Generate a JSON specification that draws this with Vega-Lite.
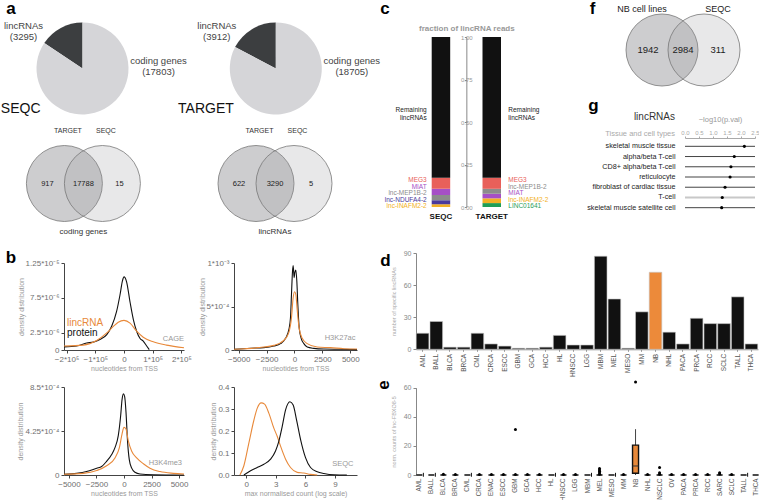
{
"$schema": "https://vega.github.io/schema/vega-lite/v6.json",
"padding": 0,
"background": "white",
"spacing": 0,
"resolve": {"scale": {"color": "independent", "fillOpacity": "independent"}, "legend": {"color": "independent"}},
"config": {
  "font": "Liberation Sans",
  "view": {"stroke": null},
  "axis": {"grid": false, "labelColor": "#6f6f6f", "labelFontSize": 8, "titleColor": "#999", "titleFontSize": 7, "titleFontWeight": "normal", "tickColor": "#444", "domainColor": "#444", "tickSize": 3, "labelPadding": 2, "titlePadding": 1, "labelFlush": false, "labelOverlap": false, "labelBound": false, "tickCount": 40},
  "text": {"font": "Liberation Sans"}
},
"datasets": {
  "pies": [
    {"dataset": "SEQC", "kind": "lincRNAs", "n": 3295},
    {"dataset": "SEQC", "kind": "coding genes", "n": 17803},
    {"dataset": "TARGET", "kind": "lincRNAs", "n": 3912},
    {"dataset": "TARGET", "kind": "coding genes", "n": 18705}
  ],
  "venn_a": [
    {"genes": "coding genes", "set": "TARGET"},
    {"genes": "lincRNAs", "set": "TARGET"},
    {"genes": "coding genes", "set": "SEQC"},
    {"genes": "lincRNAs", "set": "SEQC"}
  ],
  "venn_a_n": [
    {"genes": "coding genes", "region": "TARGET only", "n": 917},
    {"genes": "coding genes", "region": "both", "n": 17788},
    {"genes": "coding genes", "region": "SEQC only", "n": 15},
    {"genes": "lincRNAs", "region": "TARGET only", "n": 622},
    {"genes": "lincRNAs", "region": "both", "n": 3290},
    {"genes": "lincRNAs", "region": "SEQC only", "n": 5}
  ],
  "reads": [
    {"dataset": "SEQC", "name": "lnc-INAFM2-2", "frac": 0.016, "ord": 1},
    {"dataset": "SEQC", "name": "lnc-NDUFA4-2", "frac": 0.023, "ord": 2},
    {"dataset": "SEQC", "name": "lnc-MEP1B-2", "frac": 0.031, "ord": 3},
    {"dataset": "SEQC", "name": "MIAT", "frac": 0.037, "ord": 4},
    {"dataset": "SEQC", "name": "MEG3", "frac": 0.065, "ord": 5},
    {"dataset": "SEQC", "name": "Remaining lincRNAs", "frac": 0.828, "ord": 6},
    {"dataset": "TARGET", "name": "LINC01641", "frac": 0.023, "ord": 1},
    {"dataset": "TARGET", "name": "lnc-INAFM2-2", "frac": 0.028, "ord": 2},
    {"dataset": "TARGET", "name": "MIAT", "frac": 0.027, "ord": 3},
    {"dataset": "TARGET", "name": "lnc-MEP1B-2", "frac": 0.029, "ord": 4},
    {"dataset": "TARGET", "name": "MEG3", "frac": 0.065, "ord": 5},
    {"dataset": "TARGET", "name": "Remaining lincRNAs", "frac": 0.828, "ord": 6}
  ],
  "venn_f": [{"set": "NB cell lines"}, {"set": "SEQC"}],
  "venn_f_n": [
    {"region": "NB cell lines only", "n": 1942},
    {"region": "both", "n": 2984},
    {"region": "SEQC only", "n": 311}
  ],
  "tissues": [
    {"tissue": "skeletal muscle tissue", "p": 2.12},
    {"tissue": "alpha/beta T-cell", "p": 1.76},
    {"tissue": "CD8+ alpha/beta T-cell", "p": 1.64},
    {"tissue": "reticulocyte", "p": 1.61},
    {"tissue": "fibroblast of cardiac tissue", "p": 1.43},
    {"tissue": "T-cell", "p": 1.33},
    {"tissue": "skeletal muscle satellite cell", "p": 1.31}
  ],
  "cage": [
    {"type": "protein", "x": -209000, "y": 4.5e-7}, {"type": "protein", "x": -165000, "y": 5.7e-7}, {"type": "protein", "x": -130000, "y": 1.0e-6}, {"type": "protein", "x": -107000, "y": 1.13e-6}, {"type": "protein", "x": -84000, "y": 1.5e-6}, {"type": "protein", "x": -60000, "y": 2.2e-6}, {"type": "protein", "x": -43000, "y": 3.4e-6}, {"type": "protein", "x": -26000, "y": 5.5e-6}, {"type": "protein", "x": -14000, "y": 7.9e-6}, {"type": "protein", "x": -5000, "y": 1.0e-5}, {"type": "protein", "x": 0, "y": 1.05e-5}, {"type": "protein", "x": 9000, "y": 9.8e-6}, {"type": "protein", "x": 21000, "y": 6.9e-6}, {"type": "protein", "x": 33000, "y": 4.3e-6}, {"type": "protein", "x": 44000, "y": 2.7e-6}, {"type": "protein", "x": 56000, "y": 1.65e-6}, {"type": "protein", "x": 67000, "y": 1.27e-6}, {"type": "protein", "x": 79000, "y": 5.7e-7}, {"type": "protein", "x": 88000, "y": 5e-8},
    {"type": "lincRNA", "x": -209000, "y": 5.7e-7}, {"type": "lincRNA", "x": -142000, "y": 7.0e-7}, {"type": "lincRNA", "x": -95000, "y": 1.37e-6}, {"type": "lincRNA", "x": -60000, "y": 2.45e-6}, {"type": "lincRNA", "x": -37000, "y": 3.4e-6}, {"type": "lincRNA", "x": -20000, "y": 4.0e-6}, {"type": "lincRNA", "x": 0, "y": 4.25e-6}, {"type": "lincRNA", "x": 21000, "y": 3.87e-6}, {"type": "lincRNA", "x": 44000, "y": 2.7e-6}, {"type": "lincRNA", "x": 67000, "y": 1.84e-6}, {"type": "lincRNA", "x": 102000, "y": 1.18e-6}, {"type": "lincRNA", "x": 148000, "y": 7.0e-7}, {"type": "lincRNA", "x": 209000, "y": 3.3e-7}
  ],
  "h3k27ac": [
    {"type": "protein", "x": -5420, "y": 8e-6}, {"type": "protein", "x": -3950, "y": 2.0e-5}, {"type": "protein", "x": -2750, "y": 2.7e-5}, {"type": "protein", "x": -1850, "y": 4.6e-5}, {"type": "protein", "x": -1250, "y": 7.3e-5}, {"type": "protein", "x": -800, "y": 1.34e-4}, {"type": "protein", "x": -500, "y": 2.37e-4}, {"type": "protein", "x": -360, "y": 3.7e-4}, {"type": "protein", "x": -270, "y": 6.4e-4}, {"type": "protein", "x": -180, "y": 9.0e-4}, {"type": "protein", "x": -120, "y": 9.7e-4}, {"type": "protein", "x": -30, "y": 8.3e-4}, {"type": "protein", "x": 30, "y": 8.9e-4}, {"type": "protein", "x": 120, "y": 9.2e-4}, {"type": "protein", "x": 210, "y": 7.9e-4}, {"type": "protein", "x": 300, "y": 5.2e-4}, {"type": "protein", "x": 420, "y": 2.56e-4}, {"type": "protein", "x": 600, "y": 1.34e-4}, {"type": "protein", "x": 840, "y": 7.3e-5}, {"type": "protein", "x": 1140, "y": 3.4e-5}, {"type": "protein", "x": 1740, "y": 1.9e-5}, {"type": "protein", "x": 2630, "y": 1.1e-5}, {"type": "protein", "x": 4130, "y": 8e-6}, {"type": "protein", "x": 5600, "y": 4e-6},
    {"type": "lincRNA", "x": -5420, "y": 8e-6}, {"type": "lincRNA", "x": -3300, "y": 2.7e-5}, {"type": "lincRNA", "x": -1850, "y": 5.3e-5}, {"type": "lincRNA", "x": -960, "y": 1.1e-4}, {"type": "lincRNA", "x": -510, "y": 2.0e-4}, {"type": "lincRNA", "x": -270, "y": 3.7e-4}, {"type": "lincRNA", "x": -120, "y": 6.0e-4}, {"type": "lincRNA", "x": 0, "y": 6.7e-4}, {"type": "lincRNA", "x": 120, "y": 6.4e-4}, {"type": "lincRNA", "x": 240, "y": 4.66e-4}, {"type": "lincRNA", "x": 390, "y": 2.75e-4}, {"type": "lincRNA", "x": 690, "y": 1.34e-4}, {"type": "lincRNA", "x": 1140, "y": 7.3e-5}, {"type": "lincRNA", "x": 2030, "y": 3.4e-5}, {"type": "lincRNA", "x": 3230, "y": 2.7e-5}, {"type": "lincRNA", "x": 4430, "y": 1.5e-5}, {"type": "lincRNA", "x": 5600, "y": 1.1e-5}
  ],
  "h3k4me3": [
    {"type": "protein", "x": -5450, "y": 7e-6}, {"type": "protein", "x": -4300, "y": 1.6e-5}, {"type": "protein", "x": -3400, "y": 3.3e-5}, {"type": "protein", "x": -2480, "y": 6.6e-5}, {"type": "protein", "x": -2030, "y": 8.2e-5}, {"type": "protein", "x": -1580, "y": 1.32e-4}, {"type": "protein", "x": -1120, "y": 1.98e-4}, {"type": "protein", "x": -820, "y": 2.64e-4}, {"type": "protein", "x": -520, "y": 3.8e-4}, {"type": "protein", "x": -300, "y": 5.77e-4}, {"type": "protein", "x": -180, "y": 7.25e-4}, {"type": "protein", "x": -60, "y": 7.84e-4}, {"type": "protein", "x": 60, "y": 7.58e-4}, {"type": "protein", "x": 180, "y": 6.1e-4}, {"type": "protein", "x": 330, "y": 3.13e-4}, {"type": "protein", "x": 480, "y": 1.48e-4}, {"type": "protein", "x": 700, "y": 6.6e-5}, {"type": "protein", "x": 1000, "y": 2.6e-5}, {"type": "protein", "x": 1450, "y": 1.0e-5}, {"type": "protein", "x": 2670, "y": 3e-6}, {"type": "protein", "x": 5450, "y": 0},
    {"type": "lincRNA", "x": -5450, "y": 7e-6}, {"type": "lincRNA", "x": -3700, "y": 1.6e-5}, {"type": "lincRNA", "x": -2480, "y": 4.3e-5}, {"type": "lincRNA", "x": -1580, "y": 8.9e-5}, {"type": "lincRNA", "x": -820, "y": 1.65e-4}, {"type": "lincRNA", "x": -420, "y": 2.64e-4}, {"type": "lincRNA", "x": -180, "y": 3.95e-4}, {"type": "lincRNA", "x": 0, "y": 4.6e-4}, {"type": "lincRNA", "x": 180, "y": 4.45e-4}, {"type": "lincRNA", "x": 390, "y": 3.3e-4}, {"type": "lincRNA", "x": 700, "y": 2.3e-4}, {"type": "lincRNA", "x": 1150, "y": 1.65e-4}, {"type": "lincRNA", "x": 1760, "y": 1.09e-4}, {"type": "lincRNA", "x": 2360, "y": 6.6e-5}, {"type": "lincRNA", "x": 3270, "y": 3.3e-5}, {"type": "lincRNA", "x": 4480, "y": 1.6e-5}, {"type": "lincRNA", "x": 5450, "y": 1.0e-5}
  ],
  "seqc": [
    {"type": "lincRNA", "x": -0.64, "y": 0}, {"type": "lincRNA", "x": -0.24, "y": 0.042}, {"type": "lincRNA", "x": 0.27, "y": 0.146}, {"type": "lincRNA", "x": 0.78, "y": 0.25}, {"type": "lincRNA", "x": 1.11, "y": 0.303}, {"type": "lincRNA", "x": 1.52, "y": 0.328}, {"type": "lincRNA", "x": 1.86, "y": 0.322}, {"type": "lincRNA", "x": 2.3, "y": 0.28}, {"type": "lincRNA", "x": 2.8, "y": 0.213}, {"type": "lincRNA", "x": 3.14, "y": 0.176}, {"type": "lincRNA", "x": 3.48, "y": 0.131}, {"type": "lincRNA", "x": 3.99, "y": 0.072}, {"type": "lincRNA", "x": 4.49, "y": 0.034}, {"type": "lincRNA", "x": 5.17, "y": 0.012}, {"type": "lincRNA", "x": 5.84, "y": 0.009}, {"type": "lincRNA", "x": 6.5, "y": 0.003}, {"type": "lincRNA", "x": 7.2, "y": 0},
    {"type": "protein", "x": -0.24, "y": 0}, {"type": "protein", "x": 0.44, "y": 0.019}, {"type": "protein", "x": 1.11, "y": 0.034}, {"type": "protein", "x": 1.79, "y": 0.049}, {"type": "protein", "x": 2.47, "y": 0.072}, {"type": "protein", "x": 2.97, "y": 0.109}, {"type": "protein", "x": 3.31, "y": 0.154}, {"type": "protein", "x": 3.65, "y": 0.221}, {"type": "protein", "x": 3.99, "y": 0.296}, {"type": "protein", "x": 4.43, "y": 0.333}, {"type": "protein", "x": 4.76, "y": 0.318}, {"type": "protein", "x": 5.1, "y": 0.251}, {"type": "protein", "x": 5.51, "y": 0.161}, {"type": "protein", "x": 6.01, "y": 0.079}, {"type": "protein", "x": 6.52, "y": 0.034}, {"type": "protein", "x": 7.2, "y": 0.015}, {"type": "protein", "x": 7.87, "y": 0.007}, {"type": "protein", "x": 8.9, "y": 0.001}, {"type": "protein", "x": 10.2, "y": 0}
  ],
  "specific": [
    {"type": "AML", "n": 15}, {"type": "BALL", "n": 26}, {"type": "BLCA", "n": 2}, {"type": "BRCA", "n": 2}, {"type": "CML", "n": 15}, {"type": "CRCA", "n": 5}, {"type": "ESCC", "n": 3}, {"type": "GBM", "n": 1}, {"type": "GCA", "n": 1}, {"type": "HCC", "n": 2}, {"type": "HL", "n": 13}, {"type": "HNSCC", "n": 4}, {"type": "LGG", "n": 4}, {"type": "MBM", "n": 87}, {"type": "MEL", "n": 47}, {"type": "MESO", "n": 1}, {"type": "MM", "n": 35}, {"type": "NB", "n": 72}, {"type": "NHL", "n": 16}, {"type": "PACA", "n": 5}, {"type": "PRCA", "n": 29}, {"type": "RCC", "n": 24}, {"type": "SCLC", "n": 24}, {"type": "TALL", "n": 49}, {"type": "THCA", "n": 5}
  ],
  "boxes": [
    {"type": "AML", "lower": 0, "q1": 0, "median": 0, "q3": 0, "upper": 0, "all_zero": true},
    {"type": "BALL", "lower": 0, "q1": 0, "median": 0, "q3": 0, "upper": 0, "all_zero": true},
    {"type": "BLCA", "lower": 0, "q1": 0, "median": 0, "q3": 0, "upper": 0, "all_zero": false},
    {"type": "BRCA", "lower": 0, "q1": 0, "median": 0, "q3": 0, "upper": 0, "all_zero": false},
    {"type": "CML", "lower": 0, "q1": 0, "median": 0, "q3": 0, "upper": 0, "all_zero": true},
    {"type": "CRCA", "lower": 0, "q1": 0, "median": 0, "q3": 0, "upper": 0, "all_zero": false},
    {"type": "ENAC", "lower": 0, "q1": 0, "median": 0, "q3": 0, "upper": 0, "all_zero": false},
    {"type": "ESCC", "lower": 0, "q1": 0, "median": 0, "q3": 0, "upper": 0, "all_zero": false},
    {"type": "GBM", "lower": 0, "q1": 0, "median": 0, "q3": 0, "upper": 0, "all_zero": false},
    {"type": "GCA", "lower": 0, "q1": 0, "median": 0, "q3": 0, "upper": 0, "all_zero": false},
    {"type": "HCC", "lower": 0, "q1": 0, "median": 0, "q3": 0, "upper": 0, "all_zero": false},
    {"type": "HL", "lower": 0, "q1": 0, "median": 0, "q3": 0, "upper": 0, "all_zero": true},
    {"type": "HNSCC", "lower": 0, "q1": 0, "median": 0, "q3": 0, "upper": 0, "all_zero": false},
    {"type": "LGG", "lower": 0, "q1": 0, "median": 0, "q3": 0, "upper": 0, "all_zero": false},
    {"type": "MBM", "lower": 0, "q1": 0, "median": 0, "q3": 0, "upper": 0, "all_zero": true},
    {"type": "MEL", "lower": 0, "q1": 0, "median": 0, "q3": 0, "upper": 0, "all_zero": false},
    {"type": "MESO", "lower": 0, "q1": 0, "median": 0, "q3": 0, "upper": 0, "all_zero": true},
    {"type": "MM", "lower": 0, "q1": 0, "median": 0, "q3": 0, "upper": 0, "all_zero": false},
    {"type": "NB", "lower": 0, "q1": 1.2, "median": 6.2, "q3": 20.5, "upper": 31.5, "all_zero": false},
    {"type": "NHL", "lower": 0, "q1": 0, "median": 0, "q3": 0, "upper": 0, "all_zero": false},
    {"type": "NSCLC", "lower": 0, "q1": 0, "median": 0, "q3": 0, "upper": 0, "all_zero": false},
    {"type": "OV", "lower": 0, "q1": 0, "median": 0, "q3": 0, "upper": 0, "all_zero": false},
    {"type": "PACA", "lower": 0, "q1": 0, "median": 0, "q3": 0, "upper": 0, "all_zero": false},
    {"type": "PRCA", "lower": 0, "q1": 0, "median": 0, "q3": 0, "upper": 0, "all_zero": false},
    {"type": "RCC", "lower": 0, "q1": 0, "median": 0, "q3": 0, "upper": 0, "all_zero": false},
    {"type": "SARC", "lower": 0, "q1": 0, "median": 0, "q3": 0, "upper": 0, "all_zero": false},
    {"type": "SCLC", "lower": 0, "q1": 0, "median": 0, "q3": 0, "upper": 0, "all_zero": false},
    {"type": "TALL", "lower": 0, "q1": 0, "median": 0, "q3": 0, "upper": 0, "all_zero": true},
    {"type": "THCA", "lower": 0, "q1": 0, "median": 0, "q3": 0, "upper": 0, "all_zero": true}
  ],
  "outliers": [
    {"type": "BLCA", "v": 0.6}, {"type": "BRCA", "v": 0.3}, {"type": "CRCA", "v": 0.3}, {"type": "ENAC", "v": 0.3}, {"type": "ESCC", "v": 0.3}, {"type": "GBM", "v": 0.3}, {"type": "GBM", "v": 31.3}, {"type": "GCA", "v": 0.3}, {"type": "HCC", "v": 0.3}, {"type": "HNSCC", "v": 0.3}, {"type": "LGG", "v": 0.3}, {"type": "MEL", "v": 0.5}, {"type": "MEL", "v": 1.5}, {"type": "MEL", "v": 2.5}, {"type": "MEL", "v": 3.5}, {"type": "MEL", "v": 4.5}, {"type": "MM", "v": 0.3}, {"type": "NB", "v": 64}, {"type": "NHL", "v": 0.3}, {"type": "NSCLC", "v": 0.5}, {"type": "NSCLC", "v": 1.5}, {"type": "NSCLC", "v": 5.2}, {"type": "OV", "v": 0.3}, {"type": "PACA", "v": 0.3}, {"type": "PRCA", "v": 0.3}, {"type": "RCC", "v": 0.3}, {"type": "SARC", "v": 0.7}, {"type": "SARC", "v": 1.5}, {"type": "SCLC", "v": 0.3}
  ]
},
"vconcat": [
 {
  "hconcat": [
  {
    "width": 380, "height": 240,
    "resolve": {"scale": {"x": "independent", "xOffset": "independent"}},
    "layer": [
      {"data": {"name": "pies"},
       "transform": [{"stack": "n", "groupby": ["dataset"], "sort": [{"field": "kind", "order": "ascending"}], "offset": "normalize", "as": ["t0", "t1"]}],
       "mark": {"type": "arc", "outerRadius": 46},
       "encoding": {
         "x": {"field": "dataset", "type": "nominal", "scale": {"type": "point", "padding": 0, "domain": ["SEQC", "TARGET"], "range": [82.5, 275.8]}, "axis": null},
         "y": {"datum": "pie", "type": "nominal", "scale": {"type": "point", "padding": 0, "domain": ["pie", "venn"], "range": [67.5, 182.5]}, "axis": null},
         "theta": {"field": "t0", "type": "quantitative", "scale": {"domain": [0, 1], "range": [0, 6.283185]}},
         "theta2": {"field": "t1"},
         "color": {"field": "kind", "type": "nominal", "scale": {"domain": ["coding genes", "lincRNAs"], "range": ["#d5d5d8", "#3c3e40"]}, "legend": null}
       }},
      {"data": {"name": "pies"}, "transform": [{"filter": "datum.kind == 'lincRNAs'"}],
       "mark": {"type": "text", "dx": -59, "dy": -42.5, "fontSize": 9.5, "color": "#444"},
       "encoding": {
         "x": {"field": "dataset", "type": "nominal", "scale": {"type": "point", "padding": 0, "domain": ["SEQC", "TARGET"], "range": [82.5, 275.8]}, "axis": null},
         "y": {"datum": "pie", "type": "nominal", "scale": {"type": "point", "padding": 0, "domain": ["pie", "venn"], "range": [67.5, 182.5]}, "axis": null},
         "text": {"field": "kind"}}},
      {"data": {"name": "pies"}, "transform": [{"filter": "datum.kind == 'lincRNAs'"}],
       "mark": {"type": "text", "dx": -59, "dy": -32, "fontSize": 9.5, "color": "#444"},
       "encoding": {
         "x": {"field": "dataset", "type": "nominal", "scale": {"type": "point", "padding": 0, "domain": ["SEQC", "TARGET"], "range": [82.5, 275.8]}, "axis": null},
         "y": {"datum": "pie", "type": "nominal", "scale": {"type": "point", "padding": 0, "domain": ["pie", "venn"], "range": [67.5, 182.5]}, "axis": null},
         "text": {"field": "n", "type": "quantitative", "format": "(%Q)", "formatType": "time"}}},
      {"data": {"name": "pies"}, "transform": [{"filter": "datum.kind == 'coding genes'"}],
       "mark": {"type": "text", "dx": 76, "dy": -7.5, "fontSize": 9.5, "color": "#444"},
       "encoding": {
         "x": {"field": "dataset", "type": "nominal", "scale": {"type": "point", "padding": 0, "domain": ["SEQC", "TARGET"], "range": [82.5, 275.8]}, "axis": null},
         "y": {"datum": "pie", "type": "nominal", "scale": {"type": "point", "padding": 0, "domain": ["pie", "venn"], "range": [67.5, 182.5]}, "axis": null},
         "text": {"field": "kind"}}},
      {"data": {"name": "pies"}, "transform": [{"filter": "datum.kind == 'coding genes'"}],
       "mark": {"type": "text", "dx": 76, "dy": 3.5, "fontSize": 9.5, "color": "#444"},
       "encoding": {
         "x": {"field": "dataset", "type": "nominal", "scale": {"type": "point", "padding": 0, "domain": ["SEQC", "TARGET"], "range": [82.5, 275.8]}, "axis": null},
         "y": {"datum": "pie", "type": "nominal", "scale": {"type": "point", "padding": 0, "domain": ["pie", "venn"], "range": [67.5, 182.5]}, "axis": null},
         "text": {"field": "n", "type": "quantitative", "format": "(%Q)", "formatType": "time"}}},
      {"data": {"name": "pies"}, "transform": [{"filter": "datum.kind == 'lincRNAs'"}],
       "mark": {"type": "text", "align": "right", "dx": -42, "dy": 40, "fontSize": 14, "color": "#111"},
       "encoding": {
         "x": {"field": "dataset", "type": "nominal", "scale": {"type": "point", "padding": 0, "domain": ["SEQC", "TARGET"], "range": [82.5, 275.8]}, "axis": null},
         "y": {"datum": "pie", "type": "nominal", "scale": {"type": "point", "padding": 0, "domain": ["pie", "venn"], "range": [67.5, 182.5]}, "axis": null},
         "text": {"field": "dataset"}}},
      {"data": {"name": "venn_a"},
       "mark": {"type": "point", "shape": "circle", "filled": true, "opacity": 1, "size": 5776, "fill": "#9a9a9e", "stroke": "#777", "strokeWidth": 0.8, "strokeOpacity": 1},
       "encoding": {
         "x": {"field": "genes", "type": "nominal", "scale": {"type": "point", "padding": 0, "domain": ["coding genes", "lincRNAs"], "range": [83.4, 275]}, "axis": null},
         "xOffset": {"field": "set", "type": "nominal", "scale": {"type": "point", "padding": 0, "domain": ["TARGET", "SEQC"], "range": [-19, 19]}},
         "y": {"datum": "venn", "type": "nominal", "scale": {"type": "point", "padding": 0, "domain": ["pie", "venn"], "range": [67.5, 182.5]}, "axis": null},
         "fillOpacity": {"field": "set", "type": "nominal", "scale": {"domain": ["TARGET", "SEQC"], "range": [0.49, 0.225]}, "legend": null}
       }},
      {"data": {"name": "venn_a"},
       "mark": {"type": "text", "dx": 3.5, "dy": -52.5, "fontSize": 7, "color": "#333"},
       "encoding": {
         "x": {"field": "genes", "type": "nominal", "scale": {"type": "point", "padding": 0, "domain": ["coding genes", "lincRNAs"], "range": [83.4, 275]}, "axis": null},
         "xOffset": {"field": "set", "type": "nominal", "scale": {"type": "point", "padding": 0, "domain": ["TARGET", "SEQC"], "range": [-19, 19]}},
         "y": {"datum": "venn", "type": "nominal", "scale": {"type": "point", "padding": 0, "domain": ["pie", "venn"], "range": [67.5, 182.5]}, "axis": null},
         "text": {"field": "set"}}},
      {"data": {"name": "venn_a_n"},
       "mark": {"type": "text", "fontSize": 7.5, "color": "#222"},
       "encoding": {
         "x": {"field": "genes", "type": "nominal", "scale": {"type": "point", "padding": 0, "domain": ["coding genes", "lincRNAs"], "range": [83.4, 275]}, "axis": null},
         "xOffset": {"field": "region", "type": "nominal", "scale": {"type": "point", "padding": 0, "domain": ["TARGET only", "both", "SEQC only"], "range": [-36, 36]}},
         "y": {"datum": "venn", "type": "nominal", "scale": {"type": "point", "padding": 0, "domain": ["pie", "venn"], "range": [67.5, 182.5]}, "axis": null},
         "text": {"field": "n", "type": "quantitative", "format": "d"}}},
      {"data": {"name": "venn_a"}, "transform": [{"filter": "datum.set == 'SEQC'"}],
       "mark": {"type": "text", "dy": 48, "fontSize": 8, "color": "#333"},
       "encoding": {
         "x": {"field": "genes", "type": "nominal", "scale": {"type": "point", "padding": 0, "domain": ["coding genes", "lincRNAs"], "range": [83.4, 275]}, "axis": null},
         "y": {"datum": "venn", "type": "nominal", "scale": {"type": "point", "padding": 0, "domain": ["pie", "venn"], "range": [67.5, 182.5]}, "axis": null},
         "text": {"field": "genes"}}},
      {"data": {"values": [{"panel": "a"}]},
       "mark": {"type": "text", "fontSize": 17, "fontWeight": "bold", "color": "#000", "baseline": "top", "align": "center", "dx": -71.5, "dy": -67.5},
       "encoding": {
         "x": {"datum": "SEQC", "type": "nominal", "scale": {"type": "point", "padding": 0, "domain": ["SEQC", "TARGET"], "range": [82.5, 275.8]}, "axis": null},
         "y": {"datum": "pie", "type": "nominal", "scale": {"type": "point", "padding": 0, "domain": ["pie", "venn"], "range": [67.5, 182.5]}, "axis": null},
         "text": {"field": "panel"}}}
    ]
  },
  {
    "width": 208, "height": 235,
    "resolve": {"scale": {"y": "independent"}},
    "layer": [
      {"data": {"name": "reads"},
       "transform": [{"stack": "frac", "groupby": ["dataset"], "sort": [{"field": "ord", "order": "ascending"}], "as": ["y0", "y1"]}],
       "mark": {"type": "bar"},
       "encoding": {
         "x": {"field": "dataset", "type": "nominal", "scale": {"type": "band", "domain": ["SEQC", "TARGET"], "range": [51.7, 121], "paddingInner": 0.636, "paddingOuter": 0}, "axis": null},
         "y": {"field": "y0", "type": "quantitative", "scale": {"domain": [0, 1], "range": [206, 36], "nice": false, "zero": false},
               "axis": {"orient": "left", "offset": -86.35, "values": [0, 0.25, 0.5, 0.75, 1], "tickCount": 40, "format": ".2f", "labelAlign": "center", "labelBaseline": "middle", "labelPadding": -2, "tickSize": 2, "labelFontSize": 6, "labelColor": "#999", "domainColor": "#888", "tickColor": "#888", "labelOverlap": false,
                        "title": "fraction of lincRNA reads", "titleAngle": 0, "titleX": 0, "titleY": 27, "titleAlign": "center", "titleBaseline": "middle", "titleFontWeight": "bold", "titleFontSize": 8, "titleColor": "#999"}},
         "y2": {"field": "y1"},
         "color": {"field": "name", "type": "nominal", "scale": {"domain": ["MEG3", "MIAT", "lnc-MEP1B-2", "lnc-NDUFA4-2", "lnc-INAFM2-2", "LINC01641", "Remaining lincRNAs"], "range": ["#e8605a", "#a64fc6", "#8c8c8c", "#4a3a9c", "#f2b125", "#1f9e55", "#111111"]}, "legend": null}
       }},
      {"data": {"name": "reads"}, "transform": [{"filter": "datum.dataset == 'SEQC' && datum.ord <= 5"}],
       "mark": {"type": "text", "align": "right", "dx": -14.25, "fontSize": 6.5, "baseline": "middle"},
       "encoding": {
         "x": {"field": "dataset", "type": "nominal", "scale": {"type": "band", "domain": ["SEQC", "TARGET"], "range": [51.7, 121], "paddingInner": 0.636, "paddingOuter": 0}, "axis": null},
         "y": {"field": "ord", "type": "ordinal", "scale": {"type": "point", "padding": 0, "domain": [1, 2, 3, 4, 5], "range": [205.3, 179.3]}, "axis": null},
         "text": {"field": "name"},
         "color": {"field": "name", "type": "nominal", "scale": {"domain": ["MEG3", "MIAT", "lnc-MEP1B-2", "lnc-NDUFA4-2", "lnc-INAFM2-2", "LINC01641", "Remaining lincRNAs"], "range": ["#e8605a", "#a64fc6", "#8c8c8c", "#4a3a9c", "#f2b125", "#1f9e55", "#111111"]}, "legend": null}}},
      {"data": {"name": "reads"}, "transform": [{"filter": "datum.dataset == 'TARGET' && datum.ord <= 5"}],
       "mark": {"type": "text", "align": "left", "dx": 16.55, "fontSize": 6.5, "baseline": "middle"},
       "encoding": {
         "x": {"field": "dataset", "type": "nominal", "scale": {"type": "band", "domain": ["SEQC", "TARGET"], "range": [51.7, 121], "paddingInner": 0.636, "paddingOuter": 0}, "axis": null},
         "y": {"field": "ord", "type": "ordinal", "scale": {"type": "point", "padding": 0, "domain": [1, 2, 3, 4, 5], "range": [205.3, 179.3]}, "axis": null},
         "text": {"field": "name"},
         "color": {"field": "name", "type": "nominal", "scale": {"domain": ["MEG3", "MIAT", "lnc-MEP1B-2", "lnc-NDUFA4-2", "lnc-INAFM2-2", "LINC01641", "Remaining lincRNAs"], "range": ["#e8605a", "#a64fc6", "#8c8c8c", "#4a3a9c", "#f2b125", "#1f9e55", "#111111"]}, "legend": null}}},
      {"data": {"name": "reads"}, "transform": [{"filter": "datum.dataset == 'SEQC' && datum.ord == 6"}],
       "mark": {"type": "text", "align": "right", "dx": -14.25, "fontSize": 6.5, "lineBreak": " ", "lineHeight": 8, "color": "#222"},
       "encoding": {
         "x": {"field": "dataset", "type": "nominal", "scale": {"type": "band", "domain": ["SEQC", "TARGET"], "range": [51.7, 121], "paddingInner": 0.636, "paddingOuter": 0}, "axis": null},
         "y": {"datum": 0.57, "type": "quantitative", "scale": {"domain": [0, 1], "range": [206, 36], "nice": false, "zero": false}, "axis": null},
         "text": {"field": "name"}}},
      {"data": {"name": "reads"}, "transform": [{"filter": "datum.dataset == 'TARGET' && datum.ord == 6"}],
       "mark": {"type": "text", "align": "left", "dx": 16.55, "fontSize": 6.5, "lineBreak": " ", "lineHeight": 8, "color": "#222"},
       "encoding": {
         "x": {"field": "dataset", "type": "nominal", "scale": {"type": "band", "domain": ["SEQC", "TARGET"], "range": [51.7, 121], "paddingInner": 0.636, "paddingOuter": 0}, "axis": null},
         "y": {"datum": 0.57, "type": "quantitative", "scale": {"domain": [0, 1], "range": [206, 36], "nice": false, "zero": false}, "axis": null},
         "text": {"field": "name"}}},
      {"data": {"name": "reads"}, "transform": [{"filter": "datum.ord == 6"}],
       "mark": {"type": "text", "fontSize": 8, "fontWeight": "bold", "color": "#111"},
       "encoding": {
         "x": {"field": "dataset", "type": "nominal", "scale": {"type": "band", "domain": ["SEQC", "TARGET"], "range": [51.7, 121], "paddingInner": 0.636, "paddingOuter": 0}, "axis": null},
         "y": {"datum": -0.06, "type": "quantitative", "scale": {"domain": [0, 1], "range": [206, 36], "nice": false, "zero": false}, "axis": null},
         "text": {"field": "dataset"}}},
      {"data": {"values": [{"panel": "c"}]},
       "mark": {"type": "text", "fontSize": 17, "fontWeight": "bold", "color": "#000", "baseline": "top", "align": "center", "dx": -56, "dy": -36},
       "encoding": {
         "x": {"datum": "SEQC", "type": "nominal", "scale": {"type": "band", "domain": ["SEQC", "TARGET"], "range": [51.7, 121], "paddingInner": 0.636, "paddingOuter": 0}, "axis": null},
         "y": {"datum": 1, "type": "quantitative", "scale": {"domain": [0, 1], "range": [206, 36], "nice": false, "zero": false}, "axis": null},
         "text": {"field": "panel"}}}
    ]
  },
  {
    "width": 171, "height": 212,
    "resolve": {"scale": {"x": "independent", "y": "independent", "fillOpacity": "independent"}},
    "layer": [
      {"data": {"name": "venn_f"},
       "mark": {"type": "point", "shape": "circle", "filled": true, "opacity": 1, "size": 5184, "fill": "#9a9a9e", "stroke": "#777", "strokeWidth": 0.8, "strokeOpacity": 1},
       "encoding": {
         "x": {"field": "set", "type": "nominal", "scale": {"type": "point", "padding": 0, "domain": ["NB cell lines", "SEQC"], "range": [74, 116]}, "axis": null},
         "y": {"datum": "venn", "type": "nominal", "scale": {"type": "point", "padding": 0, "domain": ["label", "venn"], "range": [8, 49]}, "axis": null},
         "fillOpacity": {"field": "set", "type": "nominal", "scale": {"domain": ["NB cell lines", "SEQC"], "range": [0.49, 0.225]}, "legend": null}
       }},
      {"data": {"name": "venn_f"},
       "mark": {"type": "text", "fontSize": 9, "color": "#222"},
       "encoding": {
         "x": {"field": "set", "type": "nominal", "scale": {"type": "point", "padding": 0, "domain": ["NB cell lines", "SEQC"], "range": [54, 130]}, "axis": null},
         "y": {"datum": "label", "type": "nominal", "scale": {"type": "point", "padding": 0, "domain": ["label", "venn"], "range": [8, 49]}, "axis": null},
         "text": {"field": "set"}}},
      {"data": {"name": "venn_f_n"},
       "mark": {"type": "text", "fontSize": 9.5, "color": "#222"},
       "encoding": {
         "x": {"field": "region", "type": "nominal", "scale": {"type": "point", "padding": 0, "domain": ["NB cell lines only", "both", "SEQC only"], "range": [60, 130]}, "axis": null},
         "y": {"datum": "venn", "type": "nominal", "scale": {"type": "point", "padding": 0, "domain": ["label", "venn"], "range": [8, 49]}, "axis": null},
         "text": {"field": "n", "type": "quantitative", "format": "d"}}},
      {"data": {"values": [{"panel": "f"}]},
       "mark": {"type": "text", "fontSize": 17, "fontWeight": "bold", "color": "#000", "baseline": "top", "align": "center", "dx": -69.5, "dy": -8},
       "encoding": {
         "x": {"datum": "NB cell lines", "type": "nominal", "scale": {"type": "point", "padding": 0, "domain": ["NB cell lines", "SEQC"], "range": [74, 116]}, "axis": null},
         "y": {"datum": "label", "type": "nominal", "scale": {"type": "point", "padding": 0, "domain": ["label", "venn"], "range": [8, 49]}, "axis": null},
         "text": {"field": "panel"}}},
      {"data": {"name": "tissues"}, "mark": {"type": "rule"},
       "encoding": {
         "x": {"datum": 0, "type": "quantitative", "scale": {"domain": [0, 2.5], "range": [97, 167], "nice": false, "zero": false},
               "axis": {"orient": "top", "offset": -137, "values": [0, 0.5, 1, 1.5, 2, 2.5], "tickCount": 40, "format": ".1f", "labelFontSize": 6, "labelColor": "#aaa", "tickSize": 2, "tickColor": "#aaa", "domainColor": "#aaa", "labelPadding": 1, "labelOverlap": false, "title": "−log10(p.val)", "titleFontSize": 7.5, "titleColor": "#999", "titlePadding": 6}},
         "x2": {"datum": 2.5},
         "y": {"field": "tissue", "type": "nominal", "scale": {"type": "band", "domain": ["skeletal muscle tissue", "alpha/beta T-cell", "CD8+ alpha/beta T-cell", "reticulocyte", "fibroblast of cardiac tissue", "T-cell", "skeletal muscle satellite cell"], "range": [140.2, 211.8], "paddingInner": 0, "paddingOuter": 0},
               "axis": {"orient": "left", "offset": -97, "title": null, "ticks": false, "domain": false, "labelPadding": 10, "labelFontSize": 7.2, "labelColor": "#222", "labelLimit": 300, "labelOverlap": false}},
         "color": {"condition": {"test": "datum.tissue == 'T-cell'", "value": "#c8c8c8"}, "value": "#444"},
         "strokeWidth": {"condition": {"test": "datum.tissue == 'T-cell'", "value": 2}, "value": 1}
       }},
      {"data": {"name": "tissues"}, "mark": {"type": "point", "filled": true, "opacity": 1, "size": 10, "color": "#000"},
       "encoding": {
         "x": {"field": "p", "type": "quantitative", "scale": {"domain": [0, 2.5], "range": [97, 167], "nice": false, "zero": false}, "axis": null},
         "y": {"field": "tissue", "type": "nominal", "scale": {"type": "band", "domain": ["skeletal muscle tissue", "alpha/beta T-cell", "CD8+ alpha/beta T-cell", "reticulocyte", "fibroblast of cardiac tissue", "T-cell", "skeletal muscle satellite cell"], "range": [140.2, 211.8], "paddingInner": 0, "paddingOuter": 0}, "axis": null}}},
      {"data": {"values": [{"t": "lincRNAs"}]},
       "mark": {"type": "text", "align": "right", "baseline": "middle", "dx": -10, "dy": -29.2, "fontSize": 10, "color": "#333"},
       "encoding": {
         "x": {"datum": 0, "type": "quantitative", "scale": {"domain": [0, 2.5], "range": [97, 167], "nice": false, "zero": false}, "axis": null},
         "y": {"datum": "skeletal muscle tissue", "type": "nominal", "scale": {"type": "band", "domain": ["skeletal muscle tissue", "alpha/beta T-cell", "CD8+ alpha/beta T-cell", "reticulocyte", "fibroblast of cardiac tissue", "T-cell", "skeletal muscle satellite cell"], "range": [140.2, 211.8], "paddingInner": 0, "paddingOuter": 0}, "axis": null},
         "text": {"field": "t"}}},
      {"data": {"values": [{"t": "Tissue and cell types"}]},
       "mark": {"type": "text", "align": "right", "baseline": "middle", "dx": -10, "dy": -12.5, "fontSize": 7.5, "color": "#aaa"},
       "encoding": {
         "x": {"datum": 0, "type": "quantitative", "scale": {"domain": [0, 2.5], "range": [97, 167], "nice": false, "zero": false}, "axis": null},
         "y": {"datum": "skeletal muscle tissue", "type": "nominal", "scale": {"type": "band", "domain": ["skeletal muscle tissue", "alpha/beta T-cell", "CD8+ alpha/beta T-cell", "reticulocyte", "fibroblast of cardiac tissue", "T-cell", "skeletal muscle satellite cell"], "range": [140.2, 211.8], "paddingInner": 0, "paddingOuter": 0}, "axis": null},
         "text": {"field": "t"}}},
      {"data": {"values": [{"panel": "g"}]},
       "mark": {"type": "text", "fontSize": 17, "fontWeight": "bold", "color": "#000", "baseline": "alphabetic", "align": "center", "dx": -91.5, "dy": -35},
       "encoding": {
         "x": {"datum": 0, "type": "quantitative", "scale": {"domain": [0, 2.5], "range": [97, 167], "nice": false, "zero": false}, "axis": null},
         "y": {"datum": "skeletal muscle tissue", "type": "nominal", "scale": {"type": "band", "domain": ["skeletal muscle tissue", "alpha/beta T-cell", "CD8+ alpha/beta T-cell", "reticulocyte", "fibroblast of cardiac tissue", "T-cell", "skeletal muscle satellite cell"], "range": [140.2, 211.8], "paddingInner": 0, "paddingOuter": 0}, "axis": null},
         "text": {"field": "panel"}}}
    ]
  }
  ],
  "bounds": "flush",
  "spacing": 0,
  "resolve": {"scale": {"color": "independent", "fillOpacity": "independent", "theta": "independent"}, "legend": {"color": "independent"}}
 },
 {
  "hconcat": [
  {"width": 64, "height": 0.001, "data": {"values": []}, "mark": "point"},
  {
    "width": 120, "height": 109,
    "layer": [
      {"data": {"name": "cage"}, "mark": {"type": "line", "strokeWidth": 1.1, "interpolate": "monotone"},
       "encoding": {
         "x": {"field": "x", "type": "quantitative", "scale": {"domain": [-209000, 209000], "nice": false, "zero": false},
               "axis": {"values": [-200000, -100000, 0, 100000, 200000], "tickCount": 40, "labelOverlap": false, "labelExpr": "datum.value == 0 ? '0' : (datum.value < 0 ? '−' : '') + abs(datum.value / 100000) + '*10⁵'", "title": "nucleotides from TSS"}},
         "y": {"field": "y", "type": "quantitative", "scale": {"domain": [0, 0.0000125], "range": [109, 22], "nice": false},
               "axis": {"values": [0, 0.0000025, 0.0000075, 0.0000125], "tickCount": 40, "labelOverlap": false, "labelExpr": "datum.value == 0 ? '0' : datum.value < 0.000005 ? '2.5*10⁻⁶' : datum.value < 0.00001 ? '7.5*10⁻⁶' : '1.25*10⁻⁵'", "title": "density distribution"}},
         "color": {"field": "type", "type": "nominal", "scale": {"domain": ["lincRNA", "protein"], "range": ["#e8893a", "#111111"]},
                   "legend": {"title": null, "orient": "none", "legendX": -7, "legendY": 77, "direction": "vertical", "symbolSize": 0, "symbolStrokeWidth": 0, "symbolOpacity": 0, "labelOffset": 0, "labelFontSize": 10, "rowPadding": -1, "padding": 0,
                              "encode": {"labels": {"update": {"fill": [{"test": "datum.value === 'lincRNA'", "value": "#e8893a"}, {"value": "#111111"}]}}}}}
       }},
      {"data": {"values": [{"label": "CAGE"}]},
       "mark": {"type": "text", "align": "right", "baseline": "middle", "fontSize": 7.5, "color": "#999"},
       "encoding": {"x": {"datum": 209000}, "y": {"datum": 0.0000016}, "text": {"field": "label"}}},
      {"data": {"values": [{"panel": "b"}]},
       "mark": {"type": "text", "fontSize": 17, "fontWeight": "bold", "color": "#000", "baseline": "alphabetic", "align": "center", "dx": -53, "dy": -0.5},
       "encoding": {"x": {"datum": -209000}, "y": {"datum": 0.0000125}, "text": {"field": "panel"}}}
    ]
  },
  {"width": 49.5, "height": 0.001, "data": {"values": []}, "mark": "point"},
  {
    "width": 123, "height": 109,
    "layer": [
      {"data": {"name": "h3k27ac"}, "mark": {"type": "line", "strokeWidth": 1.1, "interpolate": "monotone"},
       "encoding": {
         "x": {"field": "x", "type": "quantitative", "scale": {"domain": [-5420, 5600], "nice": false, "zero": false},
               "axis": {"values": [-5000, -2500, 0, 2500, 5000], "tickCount": 40, "labelOverlap": false, "format": "d", "title": "nucleotides from TSS"}},
         "y": {"field": "y", "type": "quantitative", "scale": {"domain": [0, 0.001], "range": [109, 22], "nice": false},
               "axis": {"values": [0, 0.0005, 0.001], "tickCount": 40, "labelOverlap": false, "labelExpr": "datum.value == 0 ? '0' : datum.value < 0.0007 ? '5*10⁻⁴' : '1*10⁻³'", "title": "density distribution"}},
         "color": {"field": "type", "type": "nominal", "scale": {"domain": ["lincRNA", "protein"], "range": ["#e8893a", "#111111"]}, "legend": null}
       }},
      {"data": {"values": [{"label": "H3K27ac"}]},
       "mark": {"type": "text", "align": "right", "baseline": "middle", "fontSize": 7.5, "color": "#999", "dx": -1.5},
       "encoding": {"x": {"datum": 5600}, "y": {"datum": 0.000138}, "text": {"field": "label"}}}
    ]
  },
  {"width": 58.5, "height": 136, "data": {"values": []}, "mark": "point"},
  {
    "width": 342, "height": 108.3,
    "layer": [
      {"data": {"name": "specific"}, "mark": {"type": "bar", "stroke": "#c8c8c8", "strokeWidth": 0.6},
       "encoding": {
         "x": {"field": "type", "type": "nominal", "scale": {"paddingInner": 0.08, "paddingOuter": 0.02},
               "axis": {"title": null, "labelAngle": 270, "labelFontSize": 6.5, "labelColor": "#555", "tickSize": 2, "tickColor": "#999", "domainColor": "#999", "labelPadding": 2, "labelOverlap": false}},
         "y": {"field": "n", "type": "quantitative", "scale": {"domain": [0, 90], "range": [108.3, 12], "nice": false},
               "axis": {"values": [0, 30, 60, 90], "tickCount": 40, "labelOverlap": false, "labelFontSize": 7, "labelColor": "#888", "tickColor": "#888", "domainColor": "#888", "title": "number of specific lincRNAs", "titleFontSize": 5.5, "titleColor": "#aaa", "titlePadding": 7}},
         "color": {"condition": {"test": "datum.type == 'NB'", "value": "#ec8a3a"}, "value": "#111111"}
       }},
      {"data": {"values": [{"panel": "d"}]},
       "mark": {"type": "text", "fontSize": 17, "fontWeight": "bold", "color": "#000", "baseline": "alphabetic", "align": "center", "dx": -37.1, "dy": 13},
       "encoding": {"x": {"datum": "AML", "type": "nominal"}, "y": {"datum": 90, "type": "quantitative"}, "text": {"field": "panel"}}}
    ]
  }
  ],
  "bounds": "flush",
  "spacing": 0,
  "resolve": {"scale": {"color": "independent"}, "legend": {"color": "independent"}}
 },
 {
  "hconcat": [
  {"width": 64, "height": 0.001, "data": {"values": []}, "mark": "point"},
  {
    "width": 120, "height": 98,
    "layer": [
      {"data": {"name": "h3k4me3"}, "mark": {"type": "line", "strokeWidth": 1.1, "interpolate": "monotone"},
       "encoding": {
         "x": {"field": "x", "type": "quantitative", "scale": {"domain": [-5450, 5450], "nice": false, "zero": false},
               "axis": {"values": [-5000, -2500, 0, 2500, 5000], "tickCount": 40, "labelOverlap": false, "format": "d", "title": "nucleotides from TSS"}},
         "y": {"field": "y", "type": "quantitative", "scale": {"domain": [0, 0.00085], "range": [98, 10], "nice": false},
               "axis": {"values": [0, 0.000425, 0.00085], "tickCount": 40, "labelOverlap": false, "labelExpr": "datum.value == 0 ? '0' : datum.value < 0.0006 ? '4.25*10⁻⁴' : '8.5*10⁻⁴'", "title": "density distribution"}},
         "color": {"field": "type", "type": "nominal", "scale": {"domain": ["lincRNA", "protein"], "range": ["#e8893a", "#111111"]}, "legend": null}
       }},
      {"data": {"values": [{"label": "H3K4me3"}]},
       "mark": {"type": "text", "align": "right", "baseline": "middle", "fontSize": 7.5, "color": "#999", "dx": -2},
       "encoding": {"x": {"datum": 5450}, "y": {"datum": 0.000116}, "text": {"field": "label"}}}
    ]
  },
  {"width": 49.5, "height": 0.001, "data": {"values": []}, "mark": "point"},
  {
    "width": 123, "height": 98,
    "layer": [
      {"data": {"name": "seqc"}, "mark": {"type": "line", "strokeWidth": 1.1, "interpolate": "monotone"},
       "encoding": {
         "x": {"field": "x", "type": "quantitative", "scale": {"domain": [-1.24, 11.23], "nice": false, "zero": false},
               "axis": {"values": [0, 3, 6, 9], "tickCount": 40, "labelOverlap": false, "format": "d", "title": "max normalised count (log scale)"}},
         "y": {"field": "y", "type": "quantitative", "scale": {"domain": [0, 0.4], "range": [98, 10], "nice": false},
               "axis": {"values": [0, 0.1, 0.2, 0.3, 0.4], "tickCount": 40, "labelOverlap": false, "format": ".1f", "title": "density distribution"}},
         "color": {"field": "type", "type": "nominal", "scale": {"domain": ["lincRNA", "protein"], "range": ["#e8893a", "#111111"]}, "legend": null}
       }},
      {"data": {"values": [{"label": "SEQC"}]},
       "mark": {"type": "text", "align": "right", "baseline": "middle", "fontSize": 7.5, "color": "#999", "dx": -3.5},
       "encoding": {"x": {"datum": 11.23}, "y": {"datum": 0.05}, "text": {"field": "label"}}}
    ]
  },
  {"width": 58.5, "height": 0.001, "data": {"values": []}, "mark": "point"},
  {
    "width": 343, "height": 98,
    "layer": [
      {"data": {"name": "boxes"}, "mark": {"type": "rule", "color": "#444", "strokeWidth": 1},
       "encoding": {
         "x": {"field": "type", "type": "nominal", "scale": {"paddingInner": 0.5, "paddingOuter": 0.03},
               "axis": {"title": null, "labelAngle": 270, "labelFontSize": 6.3, "labelColor": "#555", "ticks": false, "domain": false, "labelPadding": 3, "labelOverlap": false}},
         "y": {"field": "lower", "type": "quantitative", "scale": {"domain": [0, 60], "range": [98, 10.7], "nice": false},
               "axis": {"values": [0, 20, 40, 60], "tickCount": 40, "labelOverlap": false, "labelFontSize": 7, "labelColor": "#888", "tickColor": "#888", "domainColor": "#888", "title": "norm. counts of lnc-FBXO8-5", "titleFontSize": 5.5, "titleColor": "#aaa", "titlePadding": 7}},
         "y2": {"field": "upper"}
       }},
      {"data": {"name": "boxes"}, "mark": {"type": "bar", "stroke": "#111", "strokeWidth": 1.4},
       "encoding": {
         "x": {"field": "type", "type": "nominal"},
         "y": {"field": "q1", "type": "quantitative"},
         "y2": {"field": "q3"},
         "fill": {"condition": {"test": "datum.type == 'NB'", "value": "#e8893a"}, "value": "#111111"}
       }},
      {"data": {"name": "boxes"}, "transform": [{"filter": "datum.q3 > datum.q1"}],
       "mark": {"type": "tick", "color": "#333", "thickness": 1, "size": 6, "opacity": 1},
       "encoding": {"x": {"field": "type", "type": "nominal"}, "y": {"field": "median", "type": "quantitative"}}},
      {"data": {"name": "boxes"}, "transform": [{"filter": "datum.all_zero"}],
       "mark": {"type": "rule", "color": "#111", "strokeWidth": 1, "xOffset": 4},
       "encoding": {"x": {"field": "type", "type": "nominal"}, "y": {"datum": -1.2}, "y2": {"datum": 1.5}}},
      {"data": {"name": "outliers"}, "mark": {"type": "point", "filled": true, "opacity": 1, "size": 9, "color": "#000"},
       "encoding": {"x": {"field": "type", "type": "nominal"}, "y": {"field": "v", "type": "quantitative"}}},
      {"data": {"values": [{"panel": "e"}]},
       "mark": {"type": "text", "fontSize": 17, "fontWeight": "bold", "color": "#000", "baseline": "middle", "align": "center", "angle": 270, "dx": 2.7, "dy": -34.9},
       "encoding": {"x": {"datum": "AML", "type": "nominal"}, "y": {"datum": 60, "type": "quantitative"}, "text": {"field": "panel"}}}
    ]
  }
  ],
  "bounds": "flush",
  "spacing": 0,
  "resolve": {"scale": {"color": "independent"}, "legend": {"color": "independent"}}
 }
]
}
